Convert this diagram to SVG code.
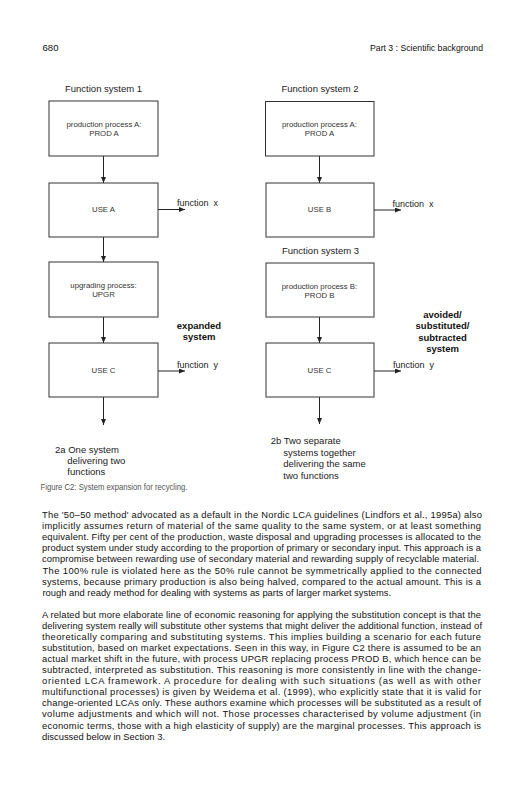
<svg xmlns="http://www.w3.org/2000/svg" width="522" height="800" viewBox="0 0 522 800">
<style>
.bg{fill:#ffffff}
.box{fill:#ffffff;stroke:#333333;stroke-width:1}
.ln{fill:none;stroke:#222222;stroke-width:1}
.hd{font-family:"Liberation Sans",Arial,sans-serif;font-size:9.6px;fill:#111111}
.ttl{font-family:"Liberation Sans",Arial,sans-serif;font-size:9.5px;fill:#222222}
.bx{font-family:"Liberation Sans",Arial,sans-serif;font-size:7.8px;fill:#333333;text-anchor:middle}
.fn{font-family:"Liberation Sans",Arial,sans-serif;font-size:9px;fill:#222222}
.bd{font-family:"Liberation Sans",Arial,sans-serif;font-size:9.5px;font-weight:bold;fill:#111111;text-anchor:middle}
.cap{font-family:"Liberation Sans",Arial,sans-serif;font-size:9.5px;fill:#222222}
.fig{font-family:"Liberation Sans",Arial,sans-serif;font-size:9px;fill:#555555}
.body{font-family:"Liberation Sans",Arial,sans-serif;font-size:9.4px;fill:#111111}
</style>
<defs>
<marker id="ah" markerUnits="userSpaceOnUse" markerWidth="6" markerHeight="5" refX="6" refY="2.5" orient="auto">
<path d="M0,0 L6,2.5 L0,5 z" fill="#222222"/>
</marker>
</defs>
<rect class="bg" x="0" y="0" width="522" height="800"/>

<g id="header">
<text class="hd" x="42.5" y="50.5">680</text>
<text class="hd" x="370" y="50.5" textLength="113" lengthAdjust="spacingAndGlyphs">Part 3 : Scientific background</text>
</g>

<g id="titles">
<text class="ttl" x="65" y="92">Function system 1</text>
<text class="ttl" x="281.5" y="92">Function system 2</text>
<text class="ttl" x="282" y="253.5">Function system 3</text>
</g>

<g id="connectors">
<line class="ln" x1="103.5" y1="156" x2="103.5" y2="183" marker-end="url(#ah)"/>
<line class="ln" x1="103.5" y1="237" x2="103.5" y2="262" marker-end="url(#ah)"/>
<line class="ln" x1="103.5" y1="317" x2="103.5" y2="343" marker-end="url(#ah)"/>
<line class="ln" x1="103.5" y1="397" x2="103.5" y2="425" marker-end="url(#ah)"/>
<line class="ln" x1="158" y1="209.5" x2="185" y2="209.5" marker-end="url(#ah)"/>
<line class="ln" x1="158" y1="371" x2="185" y2="371" marker-end="url(#ah)"/>
<line class="ln" x1="319.5" y1="156" x2="319.5" y2="183" marker-end="url(#ah)"/>
<line class="ln" x1="319.5" y1="317" x2="319.5" y2="343" marker-end="url(#ah)"/>
<line class="ln" x1="319.5" y1="397" x2="319.5" y2="424" marker-end="url(#ah)"/>
<line class="ln" x1="374" y1="210" x2="401" y2="210" marker-end="url(#ah)"/>
<line class="ln" x1="374" y1="371" x2="401" y2="371" marker-end="url(#ah)"/>
<text class="fn" x="177" y="206">function<tspan dx="5">x</tspan></text>
<text class="fn" x="177" y="368">function<tspan dx="5">y</tspan></text>
<text class="fn" x="392.5" y="206.5">function<tspan dx="5">x</tspan></text>
<text class="fn" x="393" y="368">function<tspan dx="5">y</tspan></text>
</g>

<g id="prodA1">
<rect class="box" x="49" y="101" width="109" height="55"/>
<text class="bx" x="104" y="126.5">production process A:</text>
<text class="bx" x="104" y="135.8">PROD A</text>
</g>
<g id="useA">
<rect class="box" x="49" y="183" width="109" height="54"/>
<text class="bx" x="103.5" y="212">USE A</text>
</g>
<g id="upgr">
<rect class="box" x="49" y="262" width="109" height="55"/>
<text class="bx" x="103.5" y="288">upgrading process:</text>
<text class="bx" x="103.5" y="297.3">UPGR</text>
</g>
<g id="useC1">
<rect class="box" x="49" y="343" width="109" height="54"/>
<text class="bx" x="103.5" y="373">USE C</text>
</g>

<g id="prodA2">
<rect class="box" x="265.5" y="101.5" width="108.5" height="54.5"/>
<text class="bx" x="319.5" y="126.5">production process A:</text>
<text class="bx" x="319.5" y="135.8">PROD A</text>
</g>
<g id="useB">
<rect class="box" x="266" y="183" width="108" height="54"/>
<text class="bx" x="319.5" y="212">USE B</text>
</g>
<g id="prodB">
<rect class="box" x="266" y="263" width="108" height="54"/>
<text class="bx" x="319.5" y="288.5">production process B:</text>
<text class="bx" x="319.5" y="297.8">PROD B</text>
</g>
<g id="useC2">
<rect class="box" x="266" y="343" width="108" height="54"/>
<text class="bx" x="319.5" y="373">USE C</text>
</g>

<g id="labels">
<text class="bd" x="199" y="328.5">expanded</text>
<text class="bd" x="199" y="340">system</text>
<text class="bd" x="442.5" y="317.5">avoided/</text>
<text class="bd" x="442.5" y="329">substituted/</text>
<text class="bd" x="442.5" y="340.5">subtracted</text>
<text class="bd" x="442.5" y="352">system</text>
</g>

<g id="captions">
<text class="cap" x="55" y="452.5">2a One system</text>
<text class="cap" x="67.3" y="463.5">delivering two</text>
<text class="cap" x="67.3" y="474.5">functions</text>
<text class="cap" x="270.7" y="444">2b Two separate</text>
<text class="cap" x="283.3" y="455.5">systems together</text>
<text class="cap" x="283.3" y="467">delivering the same</text>
<text class="cap" x="283.3" y="478.5">two functions</text>
<text class="fig" x="40.5" y="490" textLength="147" lengthAdjust="spacingAndGlyphs">Figure C2: System expansion for recycling.</text>
</g>

<g id="bodytext">
<text class="body" x="42" y="517.5" textLength="440" lengthAdjust="spacing">The '50–50 method' advocated as a default in the Nordic LCA guidelines (Lindfors et al., 1995a) also</text>
<text class="body" x="42" y="528.7" textLength="439" lengthAdjust="spacing">implicitly assumes return of material of the same quality to the same system, or at least something</text>
<text class="body" x="42" y="539.9" textLength="439" lengthAdjust="spacing">equivalent. Fifty per cent of the production, waste disposal and upgrading processes is allocated to the</text>
<text class="body" x="42" y="551.1" textLength="439" lengthAdjust="spacing">product system under study according to the proportion of primary or secondary input. This approach is a</text>
<text class="body" x="42" y="562.3" textLength="437" lengthAdjust="spacing">compromise between rewarding use of secondary material and rewarding supply of recyclable material.</text>
<text class="body" x="42.5" y="573.5" textLength="439" lengthAdjust="spacing">The 100% rule is violated here as the 50% rule cannot be symmetrically applied to the connected</text>
<text class="body" x="42" y="584.7" textLength="439" lengthAdjust="spacing">systems, because primary production is also being halved, compared to the actual amount. This is a</text>
<text class="body" x="42.5" y="595.9">rough and ready method for dealing with systems as parts of larger market systems.</text>
<text class="body" x="42" y="617.5" textLength="439" lengthAdjust="spacing">A related but more elaborate line of economic reasoning for applying the substitution concept is that the</text>
<text class="body" x="42" y="628.6" textLength="440" lengthAdjust="spacing">delivering system really will substitute other systems that might deliver the additional function, instead of</text>
<text class="body" x="42" y="639.7" textLength="439" lengthAdjust="spacing">theoretically comparing and substituting systems. This implies building a scenario for each future</text>
<text class="body" x="42" y="650.8" textLength="439" lengthAdjust="spacing">substitution, based on market expectations. Seen in this way, in Figure C2 there is assumed to be an</text>
<text class="body" x="42" y="661.9" textLength="439" lengthAdjust="spacing">actual market shift in the future, with process UPGR replacing process PROD B, which hence can be</text>
<text class="body" x="42" y="673" textLength="439" lengthAdjust="spacing">subtracted, interpreted as substitution. This reasoning is more consistently in line with the change-</text>
<text class="body" x="42" y="684.1" textLength="439" lengthAdjust="spacing">oriented LCA framework. A procedure for dealing with such situations (as well as with other</text>
<text class="body" x="42" y="695.2" textLength="439" lengthAdjust="spacing">multifunctional processes) is given by Weidema et al. (1999), who explicitly state that it is valid for</text>
<text class="body" x="42" y="706.3" textLength="439" lengthAdjust="spacing">change-oriented LCAs only. These authors examine which processes will be substituted as a result of</text>
<text class="body" x="42" y="717.4" textLength="439" lengthAdjust="spacing">volume adjustments and which will not. Those processes characterised by volume adjustment (in</text>
<text class="body" x="42" y="728.5" textLength="439" lengthAdjust="spacing">economic terms, those with a high elasticity of supply) are the marginal processes. This approach is</text>
<text class="body" x="42" y="739.6">discussed below in Section 3.</text>
</g>
</svg>
